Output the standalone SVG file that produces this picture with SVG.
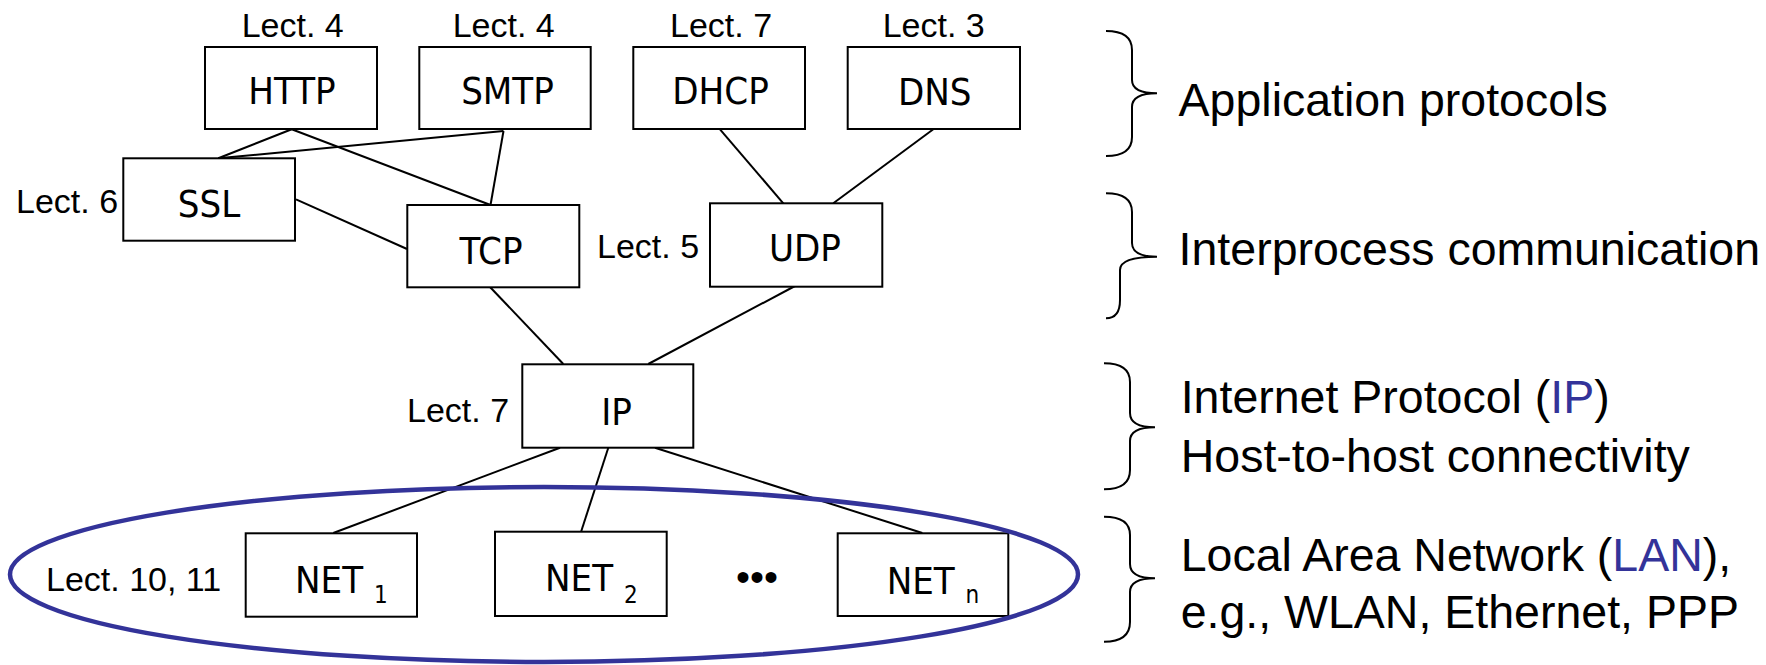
<svg xmlns="http://www.w3.org/2000/svg" width="1766" height="665" viewBox="0 0 1766 665">
<style>
.box{fill:#fff;stroke:#000;stroke-width:2}
.lbl{font-family:"Liberation Sans Narrow","Arial Narrow","DejaVu Sans Condensed",sans-serif;font-size:38px;fill:#000}
.mid{text-anchor:middle}
.sub{font-size:24px}
.lect{font-family:"Liberation Sans",Arial,sans-serif;font-size:34px;fill:#000}
.side{font-family:"Liberation Sans",Arial,sans-serif;font-size:46.5px;fill:#000}
.blue{fill:#333399}
.conn line{stroke:#000;stroke-width:2}
.brace{fill:none;stroke:#000;stroke-width:2}
</style>
<rect width="1766" height="665" fill="#fff"/>
<g id="connectors" class="conn">
<line x1="291.7" y1="129.3" x2="218.3" y2="158.3"/>
<line x1="503.5" y1="131" x2="218.3" y2="158.3"/>
<line x1="291.7" y1="129.3" x2="490.5" y2="205"/>
<line x1="503.5" y1="131" x2="490.5" y2="205"/>
<line x1="296" y1="199.3" x2="407" y2="249"/>
<line x1="720" y1="129.3" x2="783.3" y2="203.3"/>
<line x1="933.3" y1="129.3" x2="833.3" y2="203.3"/>
<line x1="490" y1="287" x2="563.3" y2="364"/>
<line x1="795" y1="286" x2="648.3" y2="364"/>
<line x1="560" y1="447.7" x2="333.3" y2="533"/>
<line x1="608.3" y1="447.7" x2="581" y2="532"/>
<line x1="655" y1="447.7" x2="922.3" y2="533"/>
</g>
<g id="http"><rect class="box" x="205" y="47" width="172" height="82"/><text class="lbl mid" x="292" y="104">HTTP</text><text class="lect" x="241.7" y="37">Lect. 4</text></g>
<g id="smtp"><rect class="box" x="419.3" y="47" width="171.4" height="82"/><text class="lbl mid" x="507.5" y="104">SMTP</text><text class="lect" x="452.7" y="37">Lect. 4</text></g>
<g id="dhcp"><rect class="box" x="633.3" y="47" width="171.7" height="82"/><text class="lbl mid" x="720.5" y="104">DHCP</text><text class="lect" x="670" y="37">Lect. 7</text></g>
<g id="dns"><rect class="box" x="847.7" y="47" width="172.3" height="82"/><text class="lbl mid" x="934.7" y="105">DNS</text><text class="lect" x="882.7" y="37">Lect. 3</text></g>
<g id="ssl"><rect class="box" x="123.3" y="158.3" width="171.7" height="82.4"/><text class="lbl mid" x="209" y="217">SSL</text><text class="lect" x="16" y="213.3">Lect. 6</text></g>
<g id="tcp"><rect class="box" x="407.3" y="205" width="172" height="82.3"/><text class="lbl mid" x="491" y="263.5">TCP</text></g>
<g id="udp"><rect class="box" x="710" y="203.3" width="172.3" height="83.4"/><text class="lbl mid" x="805" y="261">UDP</text><text class="lect" x="597" y="258.3">Lect. 5</text></g>
<g id="ip"><rect class="box" x="522.3" y="364.3" width="171" height="83.4"/><text class="lbl mid" x="616.5" y="424.5">IP</text><text class="lect" x="407" y="421.7">Lect. 7</text></g>
<g id="net1"><rect class="box" x="245.7" y="533.3" width="171.3" height="83.4"/><text class="lbl" x="295" y="593">NET <tspan class="sub" dy="10">1</tspan></text><text class="lect" x="46" y="591">Lect. 10, 11</text></g>
<g id="net2"><rect class="box" x="495" y="531.7" width="171.7" height="84.3"/><text class="lbl" x="545" y="591">NET <tspan class="sub" dy="11.5">2</tspan></text></g>
<g id="dots"><text class="side" x="757" y="591" text-anchor="middle" style="font-size:40px">•••</text></g>
<g id="netn"><rect class="box" x="837.7" y="533.3" width="170.6" height="82.7"/><text class="lbl" x="886.7" y="594">NET <tspan class="sub" dy="9">n</tspan></text></g>
<g id="lan-ellipse"><ellipse cx="544" cy="574.5" rx="534" ry="87.5" fill="none" stroke="#333399" stroke-width="4.5"/></g>
<g id="brace-app"><path class="brace" d="M1106,31 Q1132,31 1132,50 L1132,80 Q1132,93.3 1157,93.3 Q1132,93.3 1132,107 L1132,137 Q1132,156 1106,156"/><text class="side" x="1178.6" y="116">Application protocols</text></g>
<g id="brace-ipc"><path class="brace" d="M1106,193.3 Q1132,193.3 1132,212 L1132,243 Q1132,256.7 1157,256.7 Q1120,256.7 1120,270 L1120,300 Q1120,318.3 1106,318.3"/><text class="side" x="1178.6" y="265">Interprocess communication</text></g>
<g id="brace-ip"><path class="brace" d="M1104,363.3 Q1130,363.3 1130,382 L1130,413 Q1130,427.3 1155,427.3 Q1130,427.3 1130,441 L1130,470 Q1130,489.3 1104,489.3"/><text class="side" x="1180.7" y="413.3">Internet Protocol (<tspan class="blue">IP</tspan>)</text><text class="side" x="1180.7" y="471.7">Host-to-host connectivity</text></g>
<g id="brace-lan"><path class="brace" d="M1104,516.7 Q1130,516.7 1130,535 L1130,564 Q1130,578.3 1155,578.3 Q1130,578.3 1130,592 L1130,622 Q1130,641.7 1104,641.7"/><text class="side" x="1180.7" y="570.7">Local Area Network (<tspan class="blue">LAN</tspan>),</text><text class="side" x="1180.7" y="627.7">e.g., WLAN, Ethernet, PPP</text></g>
</svg>
